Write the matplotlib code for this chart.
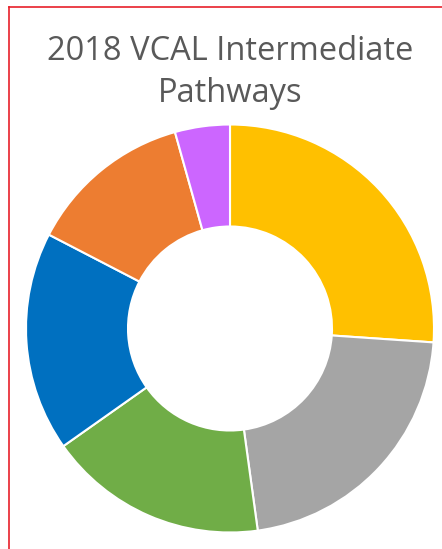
import matplotlib
matplotlib.use("Agg")
import matplotlib.pyplot as plt
from matplotlib.lines import Line2D

# donut segments, clockwise from the top
categories = ["Pathway 1", "Pathway 2", "Pathway 3", "Pathway 4", "Pathway 5", "Pathway 6"]
students = [6, 5, 4, 4, 3, 1]
colours = ["#FFC000", "#A5A5A5", "#70AD47", "#0070C0", "#ED7D31", "#CC66FF"]

W, H = 442, 549
fig = plt.figure(figsize=(W / 100, H / 100), dpi=100)

# red frame lines on top and left
fig.add_artist(Line2D([9 / W, 9 / W], [0, 1 - 7 / H], color="#E8202A", lw=1.2))
fig.add_artist(Line2D([9 / W, 1], [1 - 7 / H, 1 - 7 / H], color="#E8202A", lw=1.2))

cx, cy, r = 230, 328.5, 204
ax = fig.add_axes([(cx - r) / W, (H - cy - r) / H, 2 * r / W, 2 * r / H])
ax.pie(students, colors=colours, startangle=90, counterclock=False, radius=1,
       wedgeprops=dict(width=0.5, edgecolor="white", linewidth=1.5))
ax.set_xlim(-1, 1)
ax.set_ylim(-1, 1)
ax.set_aspect("equal")
ax.axis("off")

fig.text(230 / W, 1 - 51 / H, "2018 VCAL Intermediate", ha="center", va="center",
         fontsize=23.5, color="#595959", family="Open Sans")
fig.text(230 / W, 1 - 93 / H, "Pathways", ha="center", va="center",
         fontsize=23.5, color="#595959", family="Open Sans")

fig.savefig("out.png", dpi=100)
